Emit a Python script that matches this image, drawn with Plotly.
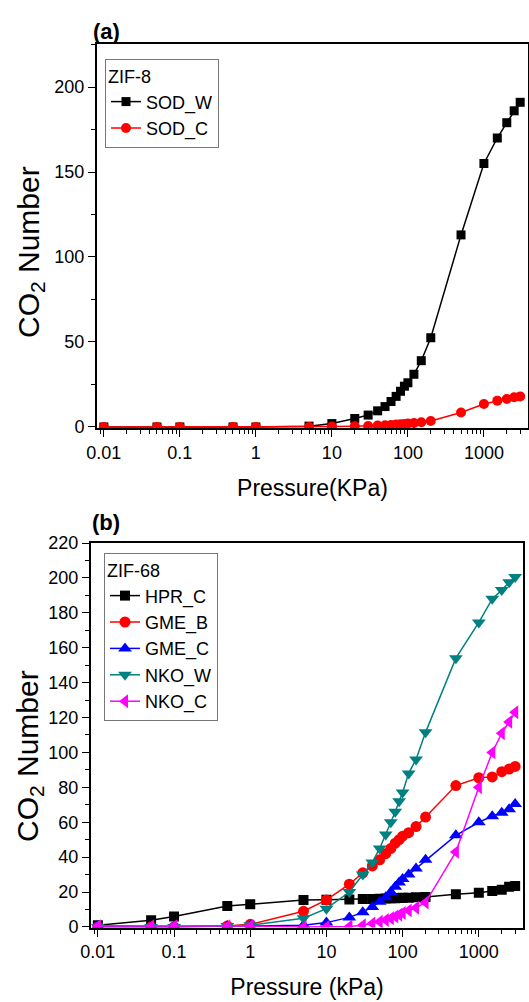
import plotly.graph_objects as go

# ---------------- data ----------------
pressure = [0.01, 0.05, 0.1, 0.5, 1, 5, 10, 20, 30, 40, 50, 60, 70, 80, 90, 100,
            120, 150, 200, 500, 1000, 1500, 2000, 2500, 3000]

# panel (a) ZIF-8
sod_w = [0, 0, 0, 0, 0, 0.5, 2, 5, 7, 9.5, 12, 15, 18, 21, 24, 26, 31, 39, 52.5,
         113, 155, 170, 179, 186, 191]
sod_c = [0, 0, 0, 0, 0, 0, 0.3, 0.5, 0.6, 0.8, 1, 1.2, 1.4, 1.6, 1.8, 2, 2.3, 2.8, 3.5,
         8.5, 13.5, 15.5, 16.5, 17.5, 18]

# panel (b) ZIF-68
hpr_c = [1, 3.8, 6, 12, 13, 15.5, 15.6, 15.8, 16, 16, 16.2, 16.3, 16.4, 16.5, 16.6, 16.7,
         16.8, 17, 17.2, 18.7, 19.6, 20.6, 21.3, 23, 23.5]
gme_b = [0, 0, 0, 0.5, 1.5, 9, 15.5, 24.5, 31, 35, 38.5, 42, 45, 48, 50, 52, 54, 57.5, 63,
         81, 85.5, 86, 89, 90.5, 92]
gme_c = [0.5, 0.3, 0.3, 0.5, 0.5, 1, 2.5, 5.5, 8.5, 11.5, 14.5, 17, 20, 23, 25.5, 27.5,
         30, 33.5, 38.5, 52.5, 60, 63.5, 65.5, 67.5, 70.5]
nko_w = [0, 0, 0, 0.5, 1, 5, 10.5, 20, 30, 37, 45, 53, 60, 66, 72, 77, 88, 96, 111.5,
         154, 174.5, 188, 193, 197.5, 200.5]
nko_c = [0.5, 0.5, 0.5, 0.5, 0.5, 0, 0, 0.3, 1, 2, 3, 4, 5, 6, 7, 8, 9.5, 11, 14,
         43, 80, 100, 111, 117.5, 123]

xtick_vals = [0.01, 0.1, 1, 10, 100, 1000]
xtick_text = ["0.01", "0.1", "1", "10", "100", "1000"]

# ---------------- layout helpers ----------------
W, H = 529, 1002
FONT = "Liberation Sans, Arial, sans-serif"

def px_x(p):
    return p / W

def px_y(p):
    return 1 - p / H

fig = go.Figure()

def add(x, y, name, color, symbol, size, xa, ya, legend):
    fig.add_trace(go.Scatter(
        x=x, y=y, name=name, mode="lines+markers",
        line=dict(color=color, width=1.5),
        marker=dict(symbol=symbol, size=size, color=color),
        xaxis=xa, yaxis=ya, legend=legend,
    ))

add(pressure, sod_w, "SOD_W", "black", "square", 9, "x", "y", "legend")
add(pressure, sod_c, "SOD_C", "#ff0000", "circle", 10, "x", "y", "legend")

add(pressure, hpr_c, "HPR_C", "black", "square", 10, "x2", "y2", "legend2")
add(pressure, gme_b, "GME_B", "#ff0000", "circle", 11, "x2", "y2", "legend2")
add(pressure, gme_c, "GME_C", "#0000ff", "triangle-up", 12, "x2", "y2", "legend2")
add(pressure, nko_w, "NKO_W", "#008080", "triangle-down", 12, "x2", "y2", "legend2")
add(pressure, nko_c, "NKO_C", "#ff00ff", "triangle-left", 12, "x2", "y2", "legend2")

xcommon = dict(
    type="log", range=[-2.09, 3.58], tickvals=xtick_vals, ticktext=xtick_text,
    ticks="outside", ticklen=7, tickwidth=1.2, tickcolor="black",
    showline=True, linecolor="black", linewidth=2, mirror=True,
    showgrid=False, zeroline=False, automargin=False,
    tickfont=dict(family=FONT, size=18, color="black"),
    minor=dict(ticks="outside", ticklen=4, tickwidth=1, tickcolor="black",
               dtick="D1", showgrid=False),
)
ycommon = dict(
    ticks="outside", ticklen=7, tickwidth=1.2, tickcolor="black",
    showline=True, linecolor="black", linewidth=2, mirror=True,
    showgrid=False, zeroline=False, automargin=False,
    tickfont=dict(family=FONT, size=18, color="black"),
)

legend_common = dict(
    xanchor="left", yanchor="top",
    font=dict(family=FONT, size=18, color="black"),
    bordercolor="#777777", borderwidth=1, bgcolor="white",
    tracegroupgap=0, itemwidth=30,
)

XT_FONT = dict(family=FONT, size=23, color="black")

fig.update_layout(
    width=W, height=H, autosize=False,
    margin=dict(l=0, r=0, t=0, b=0),
    paper_bgcolor="white", plot_bgcolor="white",
    xaxis=dict(xcommon, domain=[px_x(97), px_x(528)], anchor="y",
               title=dict(text="Pressure(KPa)", font=XT_FONT, standoff=18)),
    yaxis=dict(ycommon, domain=[px_y(428), px_y(44)], range=[-0.6, 225.3],
               dtick=50, tick0=0, anchor="x",
               minor=dict(ticks="outside", ticklen=4, tickwidth=1, tickcolor="black", dtick=25)),
    xaxis2=dict(xcommon, domain=[px_x(91), px_x(523)], anchor="y2",
                title=dict(text="Pressure (kPa)", font=XT_FONT, standoff=18)),
    yaxis2=dict(ycommon, domain=[px_y(927.5), px_y(543)], range=[-0.3, 220],
                dtick=20, tick0=0, anchor="x2",
                minor=dict(ticks="outside", ticklen=4, tickwidth=1, tickcolor="black", dtick=10)),
    legend=dict(legend_common, x=px_x(105), y=px_y(59),
                title=dict(text="ZIF-8", font=dict(family=FONT, size=18, color="black"))),
    legend2=dict(legend_common, x=px_x(104), y=px_y(553),
                 title=dict(text="ZIF-68", font=dict(family=FONT, size=18, color="black"))),
    showlegend=True,
)

annos = [
    dict(text="<b>(a)</b>", x=px_x(106), y=px_y(31), font=dict(family=FONT, size=22)),
    dict(text="<b>(b)</b>", x=px_x(106), y=px_y(522), font=dict(family=FONT, size=22)),
    dict(text="CO<sub>2</sub> Number", x=px_x(31), y=px_y(252), textangle=-90,
         font=dict(family=FONT, size=30)),
    dict(text="CO<sub>2</sub> Number", x=px_x(29), y=px_y(756), textangle=-90,
         font=dict(family=FONT, size=30)),
]
for a in annos:
    a.update(xref="paper", yref="paper", showarrow=False, xanchor="center", yanchor="middle")
    a["font"]["color"] = "black"
    fig.add_annotation(**a)

fig.write_html("out.html", config={"displayModeBar": False},
               post_script="document.body.style.margin='0';")
